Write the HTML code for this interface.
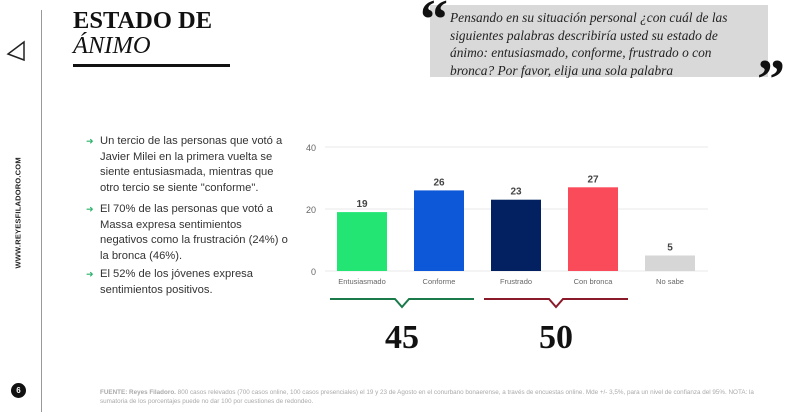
<!DOCTYPE html>
<html><head><meta charset="utf-8"><style>
body{margin:0;width:800px;height:412px;background:#fff;position:relative;overflow:hidden;font-family:"Liberation Sans",sans-serif}
.abs{position:absolute}
.title{left:73px;font-family:"Liberation Serif",serif;font-size:24.5px;color:#111;line-height:26px}
.bul{left:86px;width:190px;font-size:11.2px;line-height:15.5px;color:#333;padding-left:14px}
.bul:before{content:"➜";position:absolute;left:0;color:#2db36b;font-size:9px}
</style></head><body>
<div class="abs" style="left:41px;top:10px;width:1px;height:402px;background:#999"></div>
<svg class="abs" style="left:6px;top:40px" width="20" height="24" viewBox="0 0 20 24"><path d="M18 2 L2 14 L18 20 Z" fill="none" stroke="#222" stroke-width="1.5"/></svg>
<div class="abs" style="left:-32px;top:214px;width:100px;text-align:center;transform:rotate(-90deg);font-size:7.5px;font-weight:bold;color:#222;letter-spacing:0.2px">WWW.REYESFILADORO.COM</div>
<div class="abs title" style="top:8px;font-weight:bold">ESTADO DE</div>
<div class="abs title" style="top:33px;font-style:italic">ÁNIMO</div>
<div class="abs" style="left:73px;top:64px;width:157px;height:3px;background:#111"></div>
<div class="abs" style="left:430px;top:5px;width:338px;height:72px;background:#d9d9d9"></div>
<div class="abs" style="left:450px;top:9px;width:292px;font-family:'Liberation Serif',serif;font-style:italic;font-size:13.4px;line-height:17.6px;color:#222">Pensando en su situación personal ¿con cuál de las siguientes palabras describiría usted su estado de ánimo: entusiasmado, conforme, frustrado o con bronca? Por favor, elija una sola palabra</div>
<div class="abs" style="left:420px;top:-12px;font-family:'Liberation Serif',serif;font-weight:bold;font-size:56px;color:#111">“</div>
<div class="abs" style="left:757px;top:52px;font-family:'Liberation Serif',serif;font-weight:bold;font-size:56px;color:#111;line-height:56px">”</div>
<div class="abs bul" style="top:134px">Un tercio de las personas que votó a Javier Milei en la primera vuelta se siente entusiasmada, mientras que otro tercio se siente "conforme".</div>
<div class="abs bul" style="top:202px">El 70% de las personas que votó a Massa expresa sentimientos negativos como la frustración (24%) o la bronca (46%).</div>
<div class="abs bul" style="top:267px">El 52% de los jóvenes expresa sentimientos positivos.</div>
<svg class="abs" id="chart" style="left:0;top:0" width="800" height="412"></svg>
<div class="abs" style="left:11px;top:383px;width:15px;height:15px;border-radius:50%;background:#111;color:#fff;font-size:8px;font-weight:bold;text-align:center;line-height:15px">6</div>
<div class="abs" style="left:100px;top:388px;width:670px;font-size:6.3px;line-height:9px;color:#aaa"><b>FUENTE: Reyes Filadoro.</b> 800 casos relevados (700 casos online, 100 casos presenciales) el 19 y 23 de Agosto en el conurbano bonaerense, a través de encuestas online. Mde +/- 3,5%, para un nivel de confianza del 95%. NOTA: la sumatoria de los porcentajes puede no dar 100 por cuestiones de redondeo.</div>
<script>
const categories=["Entusiasmado","Conforme","Frustrado","Con bronca","No sabe"];
const values=[19,26,23,27,5];
const colors=["#22e574","#0d58d8","#032060","#fa4b5b","#d6d6d6"];
const ticks=[0,20,40];
const groupTotals=[45,50];
const svg=document.getElementById('chart');const NS="http://www.w3.org/2000/svg";
const y0=271,pxPer=3.1,x0=337,step=77,bw=50;
const y=v=>y0-v*pxPer;const x=i=>x0+i*step;
function mk(t,a){const e=document.createElementNS(NS,t);for(const k in a)e.setAttribute(k,a[k]);svg.appendChild(e);return e;}
ticks.forEach(t=>{
const g=mk('line',{x1:325,x2:708,y1:y(t),y2:y(t),stroke:'#e8e8e8','stroke-width':1});


const l=mk('text',{x:316,y:y(t)+4,'text-anchor':'end','font-size':9,fill:'#666','font-family':'Liberation Sans'});l.textContent=t;


});
values.forEach((v,i)=>{
const r=mk('rect',{x:x(i),y:y(v),width:bw,height:v*pxPer,fill:colors[i]});


const t=mk('text',{x:x(i)+bw/2,y:y(v)-5,'text-anchor':'middle','font-size':10,'font-weight':'bold',fill:'#444','font-family':'Liberation Sans'});t.textContent=v;


const c=mk('text',{x:x(i)+bw/2,y:284,'text-anchor':'middle','font-size':7.5,fill:'#666','font-family':'Liberation Sans'});c.textContent=categories[i];


});
const brackets=[[0,1,'#1a7a4a'],[2,3,'#8a1a2a']];
brackets.forEach((b,k)=>{
const xa=x(b[0])-7,xb=x(b[1])+bw+10,m=(xa+xb)/2;
const p=mk('path',{d:`M${xa} 299 L${m-7} 299 L${m} 307 L${m+7} 299 L${xb} 299`,fill:'none',stroke:b[2],'stroke-width':2});


const t=mk('text',{x:m,y:348,'text-anchor':'middle','font-size':34,'font-weight':'bold',fill:'#111','font-family':'Liberation Serif'});t.textContent=groupTotals[k];


});
</script>
</body></html>
